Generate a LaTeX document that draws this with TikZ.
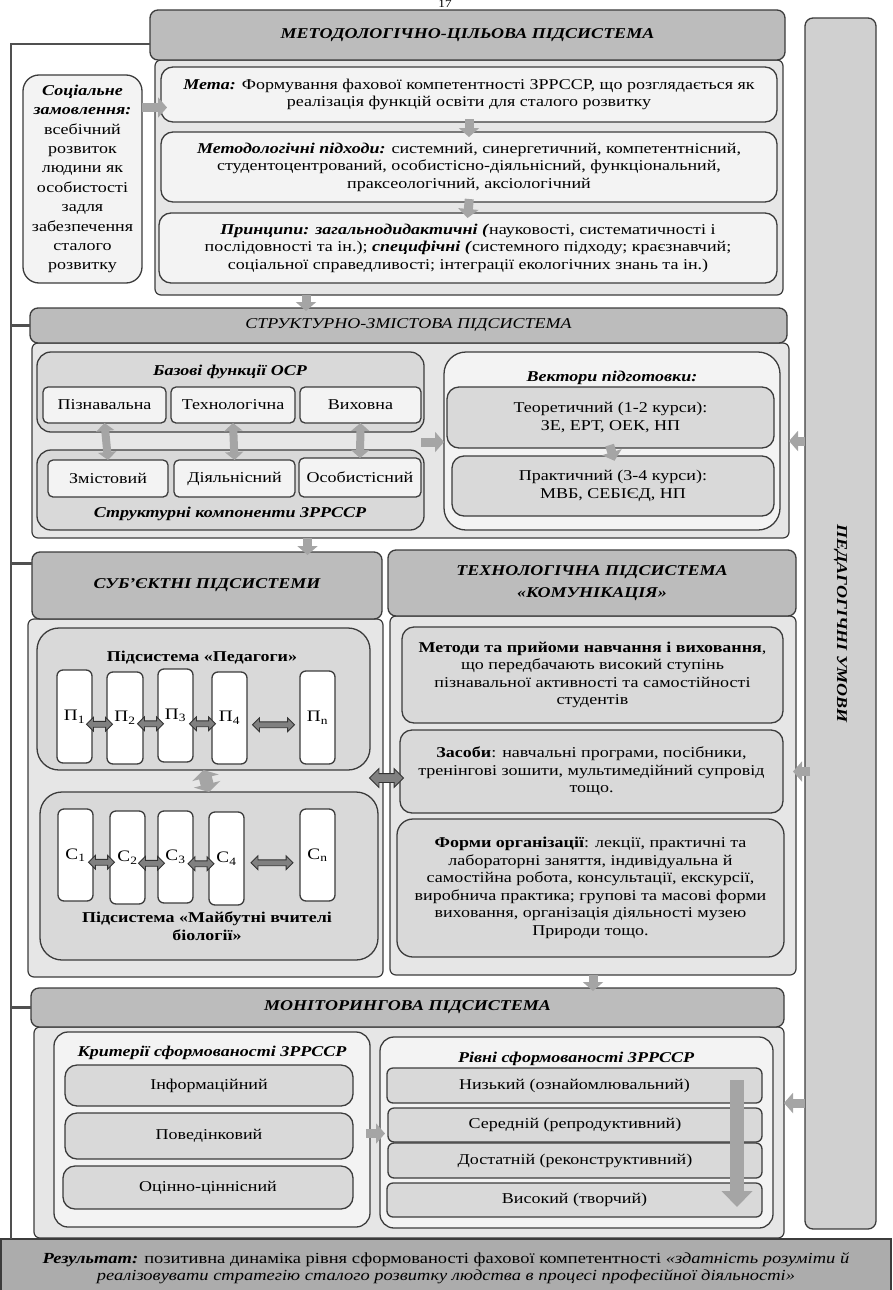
\documentclass[tikz,border=0pt]{standalone}
\usepackage{fontspec}
\setmainfont{Liberation Serif}[FakeStretch=1.2]
\usetikzlibrary{shapes.arrows,arrows.meta,calc}
\definecolor{bordc}{RGB}{60,60,60}
\definecolor{hdrc}{RGB}{188,188,188}
\definecolor{contc}{RGB}{230,230,230}
\definecolor{lightc}{RGB}{243,243,243}
\definecolor{midc}{RGB}{217,217,217}
\definecolor{barc}{RGB}{208,208,208}
\definecolor{resc}{RGB}{172,172,172}
\definecolor{arrc}{RGB}{165,165,165}
\definecolor{darrc}{RGB}{128,128,128}
\definecolor{framec}{RGB}{80,80,80}
\newcommand{\bi}[1]{\textbf{\textit{#1}}}
\begin{document}
\begin{tikzpicture}[x=1pt,y=-1pt,
  every node/.style={inner sep=0pt, outer sep=0pt},
  at box/.style n args={4}{at={({(#1+#3)/2},{(#2+#4)/2})}, anchor=center,
     minimum width={(#3-#1)*1pt}, minimum height={(#4-#2)*1pt}},
  base/.style={draw=bordc, line width=1.3pt, rounded corners=8pt, align=center, font=\fontsize{15}{17.5}\selectfont},
  hdrbox/.style={base, fill=hdrc, font=\fontsize{15}{22}\selectfont\bfseries\itshape},
  hdrlight/.style={hdrbox, font=\fontsize{15}{22}\selectfont\itshape},
  cont/.style={base, fill=contc, rounded corners=6pt, line width=1.2pt},
  lbox/.style={base, fill=lightc, rounded corners=12pt},
  gbox/.style={base, fill=midc, rounded corners=12pt},
  wbox/.style={base, fill=white, rounded corners=6pt, font=\fontsize{16}{18}\selectfont},
  fbox/.style={base, fill=lightc, rounded corners=5pt},
  ttl/.style={font=\fontsize{15}{17.5}\selectfont\bfseries\itshape, align=center},
  btl/.style={font=\fontsize{15}{17.5}\selectfont\bfseries, align=center},
  garrow/.style={draw=arrc, line width=9pt, -{Triangle[length=9pt,width=20pt]}},
  vdarrow/.style={draw=arrc, line width=8pt, {Triangle[length=8pt,width=18pt]}-{Triangle[length=8pt,width=18pt]}},
  bigvd/.style={draw=arrc, line width=13pt, {Triangle[length=8pt,width=27pt]}-{Triangle[length=8pt,width=27pt]}},
  bigdown/.style={draw=arrc, line width=14pt, -{Triangle[length=16pt,width=30pt]}},
  darrow/.style={double arrow, draw=black!80, fill=darrc, line width=0.8pt, inner sep=2.5pt, double arrow head extend=4pt, minimum height=26pt},
  frame/.style={draw=framec, line width=2.5pt}
]
\useasboundingbox (0,0) rectangle (892,1290);
\node[font=\fontsize{11}{12}\selectfont, anchor=north] (pnum) at (445,0) {17};

% right bar
\node[base, fill=barc, rounded corners=8pt, at box={805}{18}{876}{1229}] (bar) {};
\node[rotate=-90, font=\fontsize{15}{17}\selectfont\bfseries\itshape] (barlbl) at (bar.center) {ПЕДАГОГІЧНІ УМОВИ};

% ---------- section 1
\node[cont, at box={155}{60}{783}{295}] (cont1) {};
\node[hdrbox, at box={150}{10}{785}{60}] (hdr1) {МЕТОДОЛОГІЧНО-ЦІЛЬОВА ПІДСИСТЕМА};
\node[lbox, rounded corners=16pt, at box={23}{75}{142}{283}, font=\fontsize{15}{19.4}\selectfont] (soc)
 {\bi{Соціальне}\\ \bi{замовлення:}\\ всебічний\\ розвиток\\ людини як\\ особистості\\ задля\\ забезпечення\\ сталого\\ розвитку};
\node[lbox, at box={161}{67}{777}{122}] (meta)
 {\bi{Мета:} Формування фахової компетентності ЗРРССР, що розглядається як\\ реалізація функцій освіти для сталого розвитку};
\node[lbox, at box={161}{132}{777}{202}] (meth)
 {\bi{Методологічні підходи:} системний, синергетичний, компетентнісний,\\ студентоцентрований, особистісно-діяльнісний, функціональний,\\ праксеологічний, аксіологічний};
\node[lbox, at box={159}{213}{777}{283}] (princ)
 {\bi{Принципи: загальнодидактичні (}науковості, систематичності і\\ послідовності та ін.); \bi{специфічні (}системного підходу; краєзнавчий;\\ соціальної справедливості; інтеграції екологічних знань та ін.)};

% ---------- section 2
\node[cont, at box={32}{343}{789}{538}] (cont2) {};
\node[hdrlight, at box={30}{308}{787}{343}] (hdr2) {СТРУКТУРНО-ЗМІСТОВА ПІДСИСТЕМА};
\node[gbox, rounded corners=14pt, at box={37}{352}{424}{432}] (func) {};
\node[ttl] (functtl) at (230,372) {Базові функції ОСР};
\node[fbox, at box={43}{387}{166}{423}] (f1) {Пізнавальна};
\node[fbox, at box={171}{387}{295}{423}] (f2) {Технологічна};
\node[fbox, at box={300}{387}{421}{423}] (f3) {Виховна};
\node[gbox, rounded corners=14pt, at box={37}{450}{424}{530}] (comp) {};
\node[fbox, at box={48}{460}{168}{497}] (c1) {Змістовий};
\node[fbox, at box={174}{460}{295}{497}] (c2) {Діяльнісний};
\node[fbox, at box={299}{458}{421}{497}] (c3) {Особистісний};
\node[ttl] (comptl) at (230,514) {Структурні компоненти ЗРРССР};
\node[lbox, rounded corners=22pt, at box={444}{352}{780}{530}] (vect) {};
\node[ttl] (vecttl) at (612,378) {Вектори підготовки:};
\node[gbox, at box={447}{387}{774}{448}] (theo) {Теоретичний (1-2 курси):\\ ЗЕ, ЕРТ, ОЕК, НП};
\node[gbox, at box={452}{456}{774}{516}] (prac) {Практичний (3-4 курси):\\ МВБ, СЕБІЄД, НП};

% ---------- section 3a
\node[cont, at box={28}{619}{383}{977}] (cont3a) {};
\node[hdrbox, at box={32}{552}{382}{619}] (hdr3a) {СУБ’ЄКТНІ ПІДСИСТЕМИ};
\node[gbox, rounded corners=22pt, at box={37}{628}{370}{770}] (ped) {};
\node[btl] (pedttl) at (202,658) {Підсистема «Педагоги»};
\node[wbox, at box={57}{670}{92}{763}] (p1) {П\textsubscript{1}};
\node[wbox, at box={107}{672}{143}{764}] (p2) {П\textsubscript{2}};
\node[wbox, at box={158}{669}{193}{762}] (p3) {П\textsubscript{3}};
\node[wbox, at box={212}{672}{247}{764}] (p4) {П\textsubscript{4}};
\node[wbox, at box={300}{671}{335}{764}] (pn) {П\textsubscript{n}};
\node[gbox, rounded corners=22pt, at box={40}{792}{378}{960}] (stu) {};
\node[wbox, at box={58}{809}{93}{901}] (s1) {С\textsubscript{1}};
\node[wbox, at box={110}{811}{145}{904}] (s2) {С\textsubscript{2}};
\node[wbox, at box={158}{811}{193}{903}] (s3) {С\textsubscript{3}};
\node[wbox, at box={209}{812}{244}{905}] (s4) {С\textsubscript{4}};
\node[wbox, at box={300}{809}{335}{901}] (sn) {С\textsubscript{n}};
\node[btl] (stuttl) at (207,926) {Підсистема «Майбутні вчителі\\ біології»};

% ---------- section 3b
\node[cont, at box={390}{616}{796}{975}] (cont3b) {};
\node[hdrbox, at box={388}{550}{796}{616}] (hdr3b) {ТЕХНОЛОГІЧНА ПІДСИСТЕМА\\ «КОМУНІКАЦІЯ»};
\node[gbox, at box={402}{627}{783}{723}] (met)
 {\textbf{Методи та прийоми навчання і виховання},\\ що передбачають високий ступінь\\ пізнавальної активності та самостійності\\ студентів};
\node[gbox, at box={400}{730}{783}{813}] (zas)
 {\textbf{Засоби}: навчальні програми, посібники,\\ тренінгові зошити, мультимедійний супровід\\ тощо.};
\node[gbox, rounded corners=16pt, at box={397}{819}{784}{957}] (form)
 {\textbf{Форми організації}: лекції, практичні та\\ лабораторні заняття, індивідуальна й\\ самостійна робота, консультації, екскурсії,\\ виробнича практика; групові та масові форми\\ виховання, організація діяльності музею\\ Природи тощо.};

% ---------- section 4
\node[cont, at box={34}{1027}{784}{1238}] (cont4) {};
\node[hdrbox, at box={31}{988}{784}{1027}] (hdr4) {МОНІТОРИНГОВА ПІДСИСТЕМА};
\node[lbox, rounded corners=14pt, at box={54}{1032}{370}{1227}] (crit) {};
\node[ttl] (critttl) at (212,1053) {Критерії сформованості ЗРРССР};
\node[gbox, at box={65}{1065}{353}{1106}] (k1) {Інформаційний};
\node[gbox, at box={65}{1113}{353}{1159}] (k2) {Поведінковий};
\node[gbox, at box={63}{1166}{353}{1209}] (k3) {Оцінно-ціннісний};
\node[lbox, rounded corners=14pt, at box={380}{1037}{773}{1228}] (lev) {};
\node[ttl] (levttl) at (576,1059) {Рівні сформованості ЗРРССР};
\node[gbox, rounded corners=6pt, at box={387}{1068}{762}{1103}] (l1) {Низький (ознайомлювальний)};
\node[gbox, rounded corners=6pt, at box={388}{1108}{762}{1142}] (l2) {Середній (репродуктивний)};
\node[gbox, rounded corners=6pt, at box={388}{1143}{762}{1178}] (l3) {Достатній (реконструктивний)};
\node[gbox, rounded corners=6pt, at box={387}{1183}{762}{1217}] (l4) {Високий (творчий)};

% result
\node[base, fill=resc, rounded corners=0pt, at box={1}{1239}{891}{1298}, font=\fontsize{15.4}{17}\selectfont] (res)
 {\bi{Результат:} позитивна динаміка рівня сформованості фахової компетентності \textit{«здатність розуміти й}\\ \textit{реалізовувати стратегію сталого розвитку людства в процесі професійної діяльності»}};

% ---------- frame on the left
\coordinate (ftop) at (11,44);
\coordinate (fbot) at (11,1239);
\draw[frame] (ftop -| hdr1.west) -- (ftop) -- (fbot);
\draw[frame] (ftop |- hdr2.west) -- (hdr2.west);
\coordinate (j3) at ([yshift=22pt]hdr3a.west);
\draw[frame] (j3) -- (j3 -| ftop);
\draw[frame] (ftop |- hdr4.west) -- (hdr4.west);

% ---------- arrows
\coordinate (sa) at ([yshift=-13pt]meta.west);
\draw[garrow, shorten >=-6pt] (soc.east |- sa) -- (sa);
\draw[garrow, shorten <=-3pt, shorten >=-5pt] (meta.south) -- (meth.north);
\draw[garrow, shorten <=-3pt, shorten >=-5pt] (meth.south) -- (princ.north);
\draw[garrow, shorten >=-3pt] ([xshift=-163pt]cont1.south) -- ([xshift=-163pt]cont1.south |- hdr2.north);
\draw[vdarrow] (f1.south) -- (c1.north);
\draw[vdarrow] (f2.south) -- (c2.north);
\draw[vdarrow] (f3.south) -- (c3.north);
\coordinate (fa) at ([yshift=-10pt]func.south east);
\draw[garrow, shorten <=-3pt] (fa) -- (fa -| vect.west);
\draw[garrow, shorten <=-3pt, shorten >=-5pt] (theo.south) -- (prac.north);
\draw[garrow, shorten >=-3pt] ([xshift=-103pt]cont2.south) -- ([xshift=-103pt]cont2.south |- hdr3a.north);
\draw[garrow, shorten >=-3pt] (cont3b.south) -- (hdr4.north -| cont3b.south);
\draw[garrow] (bar.west |- vect.east) -- (cont2.east |- vect.east);
\draw[garrow, shorten <=-5pt, shorten >=-3pt] (bar.west |- zas.east) -- (cont3b.east |- zas.east);
\draw[garrow] (bar.west |- l1.south) -- (cont4.east |- l1.south);
\coordinate (ka) at ([yshift=-4pt]crit.east);
\draw[garrow, shorten <=-4pt, shorten >=-5pt] (ka) -- (ka -| lev.west);
\draw[bigvd] (ped.south) -- (stu.north);
\node[darrow, minimum height=34pt, inner sep=4pt, double arrow head extend=5pt] (dmid) at ($(cont3a.east |- 0,778)!0.5!(cont3b.west |- 0,778)$) {};
% P row
\node[darrow] (ap12) at ([yshift=-7pt]$(p1.east)!0.5!(p2.west)$) {};
\node[darrow] (ap23) at ([yshift=-7pt]$(p2.east)!0.5!(p3.west)$) {};
\node[darrow] (ap34) at ([yshift=-7pt]$(p3.east)!0.5!(p4.west)$) {};
\node[darrow, minimum height=42pt] (ap4n) at ([yshift=-7pt]$(p4.east)!0.5!(pn.west)$) {};
% S row
\node[darrow] (as12) at ([yshift=-6pt]$(s1.east)!0.5!(s2.west)$) {};
\node[darrow] (as23) at ([yshift=-6pt]$(s2.east)!0.5!(s3.west)$) {};
\node[darrow] (as34) at ([yshift=-6pt]$(s3.east)!0.5!(s4.west)$) {};
\node[darrow, minimum height=42pt] (as4n) at ([yshift=-6pt]$(s4.east)!0.5!(sn.west)$) {};
% levels arrow
\coordinate (bd1) at (737,1080);
\coordinate (bd2) at (737,1207);
\draw[bigdown] (bd1) -- (bd2);
\end{tikzpicture}
\end{document}
